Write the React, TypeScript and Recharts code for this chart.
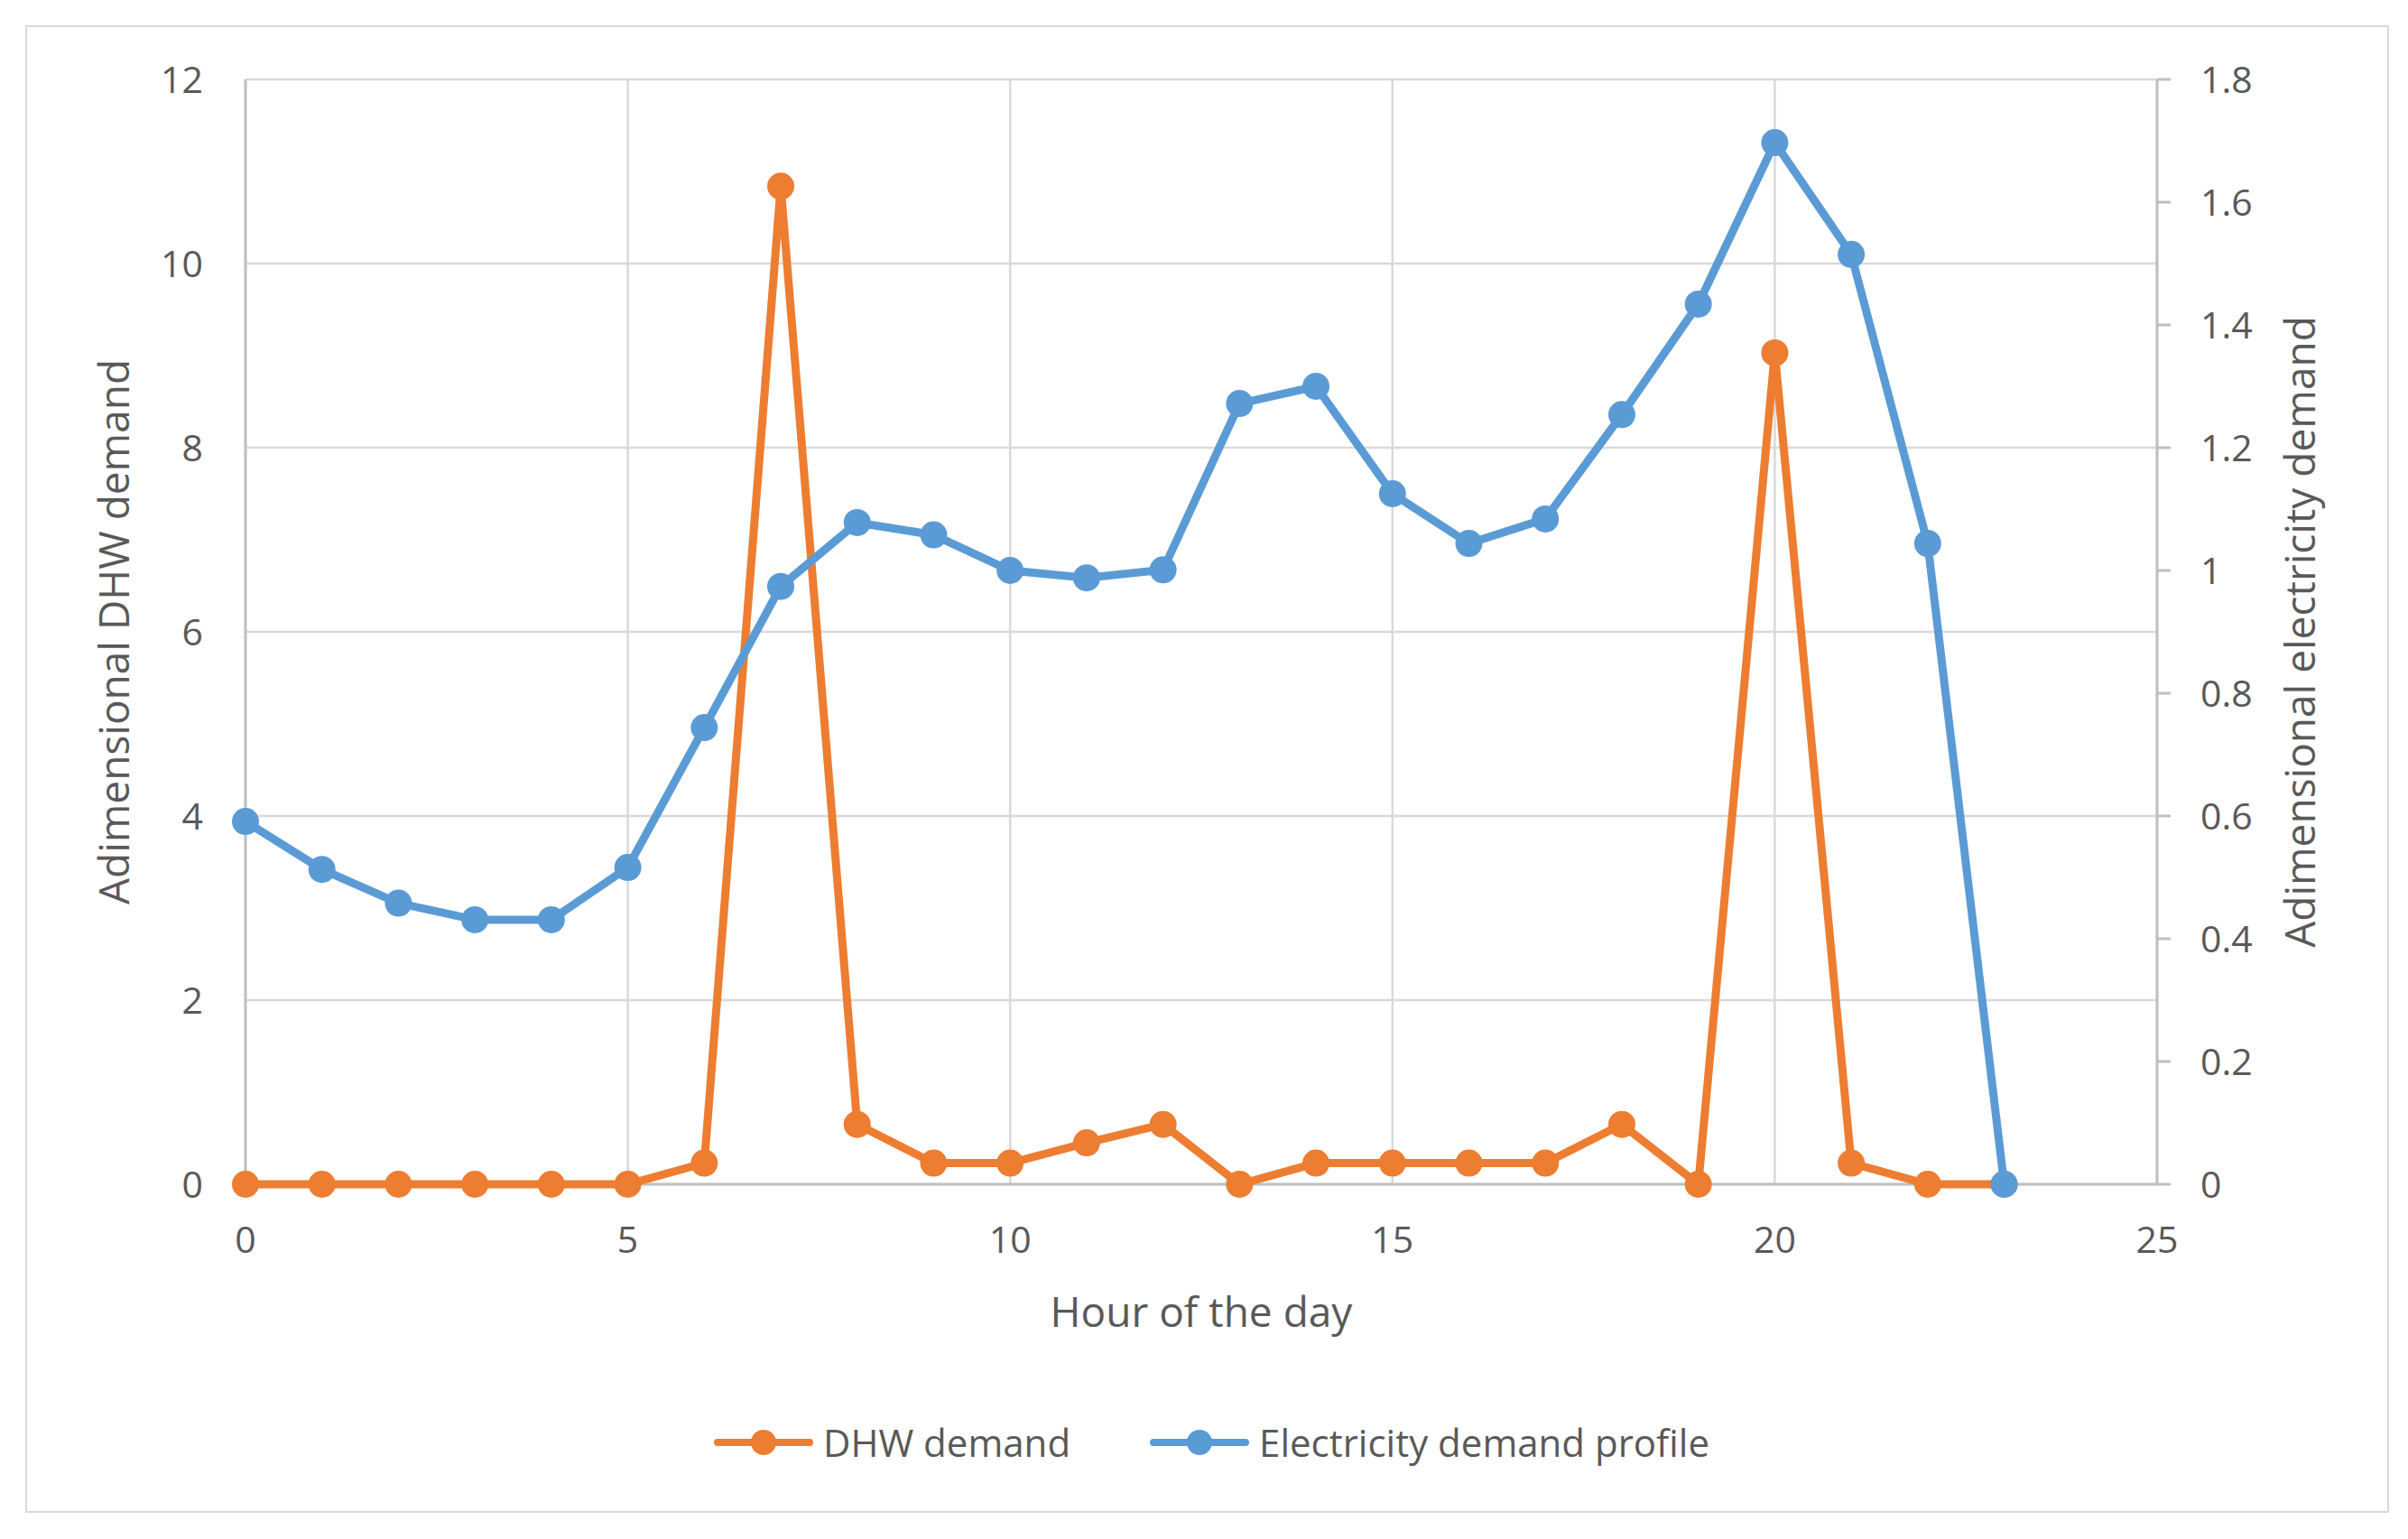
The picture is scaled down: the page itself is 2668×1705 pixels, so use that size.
import { LineChart, Line, XAxis, YAxis, CartesianGrid, Legend, Label } from "recharts";

const hours = [0, 1, 2, 3, 4, 5, 6, 7, 8, 9, 10, 11, 12, 13, 14, 15, 16, 17, 18, 19, 20, 21, 22, 23];
const dhwDemand = [
  0, 0, 0, 0, 0, 0, 0.23, 10.84, 0.65, 0.23, 0.23, 0.45, 0.65, 0, 0.23, 0.23, 0.23, 0.23, 0.65, 0, 9.03, 0.23, 0, 0,
];
const electricityDemand = [
  0.591, 0.513, 0.458, 0.431, 0.431, 0.516, 0.744, 0.974, 1.078, 1.058, 1.0, 0.988, 1.001, 1.272, 1.3, 1.125, 1.044,
  1.084, 1.254, 1.434, 1.697, 1.515, 1.044, 0,
];
const xTicks = [0, 5, 10, 15, 20, 25];
const leftTicks = [0, 2, 4, 6, 8, 10, 12];
const rightTicks = [0, 0.2, 0.4, 0.6, 0.8, 1, 1.2, 1.4, 1.6, 1.8];

const ORANGE = "#ED7D31";
const BLUE = "#5B9BD5";
const TEXT = "#595959";
const GRID = "#D9D9D9";
const AXIS = "#BFBFBF";
const FONT = "'Open Sans', sans-serif";

const W = 2668;
const H = 1705;

const data = hours.map((h, i) => ({
  hour: h,
  dhw: dhwDemand[i],
  elec: electricityDemand[i],
}));

const tickStyle = { fill: TEXT, fontSize: 41, fontFamily: FONT };

function fmt(v: number) {
  return String(Number(v.toFixed(1)));
}

function VerticalTitle({ viewBox, value, dxFromLeft }: any) {
  const x = viewBox.x + dxFromLeft;
  const y = viewBox.y + viewBox.height / 2;
  return (
    <text
      x={x}
      y={y}
      transform={`rotate(-90 ${x} ${y})`}
      textAnchor="middle"
      dominantBaseline="central"
      fill={TEXT}
      fontSize={46}
      fontFamily={FONT}
    >
      {value}
    </text>
  );
}

function HourTitle({ viewBox }: any) {
  return (
    <text
      x={viewBox.x + viewBox.width / 2}
      y={viewBox.y + 158}
      textAnchor="middle"
      fill={TEXT}
      fontSize={46}
      fontFamily={FONT}
    >
      Hour of the day
    </text>
  );
}

function LegendContent({ payload }: any) {
  return (
    <div
      style={{
        display: "flex",
        justifyContent: "center",
        alignItems: "center",
        gap: 87,
        height: 60,
        paddingLeft: 16,
      }}
    >
      {(payload || []).map((entry: any) => (
        <div key={entry.value} style={{ display: "flex", alignItems: "center" }}>
          <svg width={112} height={32}>
            <line x1={5} y1={16} x2={107} y2={16} stroke={entry.color} strokeWidth={8} strokeLinecap="round" />
            <circle cx={56} cy={16} r={14} fill={entry.color} />
          </svg>
          <span style={{ marginLeft: 10, fontSize: 42, lineHeight: 1, color: TEXT, fontFamily: FONT }}>
            {entry.value}
          </span>
        </div>
      ))}
    </div>
  );
}

export default function App() {
  return (
    <div style={{ position: "absolute", left: 0, top: 0, width: W, height: H, background: "#fff" }}>
      <div
        style={{
          position: "absolute",
          left: 28,
          top: 28,
          width: 2619,
          height: 1648,
          border: `2px solid ${GRID}`,
          boxSizing: "border-box",
          pointerEvents: "none",
        }}
      />
      <LineChart width={W} height={H} data={data} margin={{ top: 88, right: 0, bottom: 0, left: 0 }}>
        <CartesianGrid yAxisId="left" stroke={GRID} strokeWidth={2.5} />
        <XAxis
          dataKey="hour"
          type="number"
          domain={[0, 25]}
          ticks={xTicks}
          height={393}
          tickLine={false}
          tickSize={0}
          tickMargin={47}
          axisLine={{ stroke: AXIS, strokeWidth: 3 }}
          tick={tickStyle}
        >
          <Label content={<HourTitle />} />
        </XAxis>
        <YAxis
          yAxisId="left"
          orientation="left"
          domain={[0, 12]}
          ticks={leftTicks}
          width={272}
          tickLine={false}
          tickSize={0}
          tickMargin={47}
          axisLine={{ stroke: AXIS, strokeWidth: 3 }}
          tick={tickStyle}
          interval={0}
        >
          <Label content={<VerticalTitle value="Adimensional DHW demand" dxFromLeft={125} />} />
        </YAxis>
        <YAxis
          yAxisId="right"
          orientation="right"
          domain={[0, 1.8]}
          ticks={rightTicks}
          width={278}
          tickLine={{ stroke: AXIS, strokeWidth: 3 }}
          tickSize={15}
          tickMargin={33}
          axisLine={{ stroke: AXIS, strokeWidth: 3 }}
          tick={tickStyle}
          tickFormatter={fmt}
          interval={0}
        >
          <Label content={<VerticalTitle value="Adimensional electricity demand" dxFromLeft={157} />} />
        </YAxis>
        <Legend
          layout="horizontal"
          align="center"
          verticalAlign="middle"
          wrapperStyle={{ top: 1568, left: 0, width: W }}
          content={<LegendContent />}
        />
        <Line
          yAxisId="left"
          type="linear"
          dataKey="dhw"
          name="DHW demand"
          stroke={ORANGE}
          strokeWidth={9}
          dot={{ r: 15, fill: ORANGE, stroke: "none" }}
          activeDot={false}
          isAnimationActive={false}
          zIndex={600}
        />
        <Line
          yAxisId="right"
          type="linear"
          dataKey="elec"
          name="Electricity demand profile"
          stroke={BLUE}
          strokeWidth={9}
          dot={{ r: 15, fill: BLUE, stroke: "none" }}
          activeDot={false}
          isAnimationActive={false}
          zIndex={610}
        />
      </LineChart>
    </div>
  );
}
